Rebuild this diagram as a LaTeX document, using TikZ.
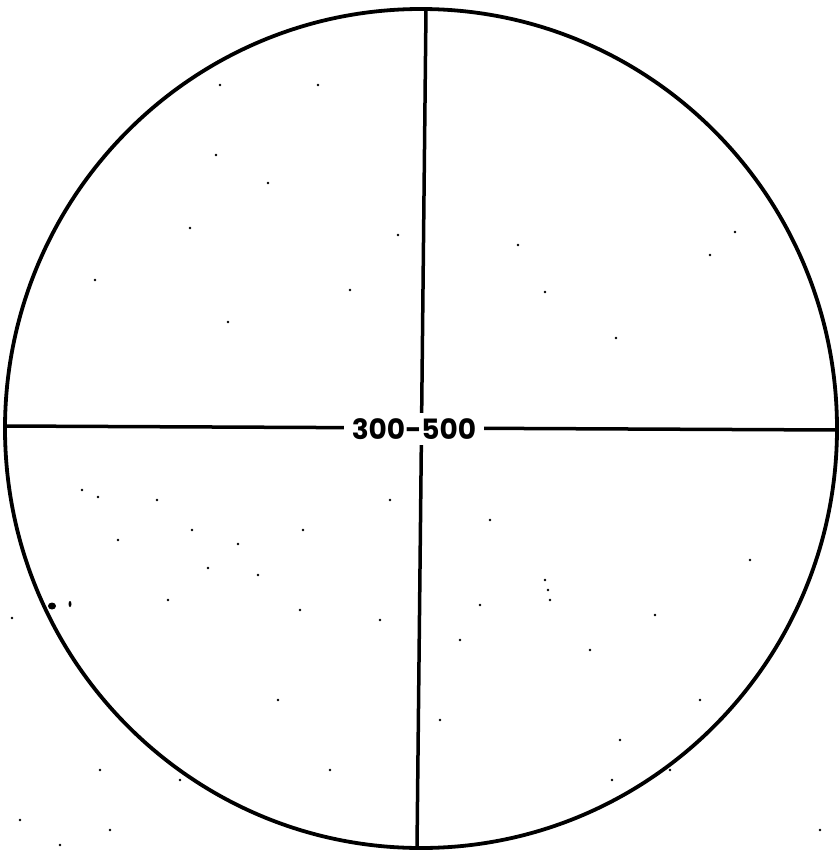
\documentclass[tikz,border=0pt]{standalone}
\usepackage{fontspec}
\setmainfont{Poppins}
\begin{document}
\begin{tikzpicture}[x=1pt,y=-1pt,
  ring/.style={line width=3.8pt},
  hair/.style={line width=3.5pt},
  lbl/.style={fill=white,inner xsep=8pt,inner ysep=5pt,font=\fontsize{28}{28}\selectfont\bfseries},
  speck/.style={fill=black}]
\useasboundingbox (0,0) rectangle (840,851);
\coordinate (c) at (421,428.5);
\draw[ring] (c) ellipse [x radius=416, y radius=419.5];
\coordinate (L) at (5,426);
\coordinate (R) at (837,430);
\coordinate (T) at (426,9);
\coordinate (B) at (417,848);
\draw[hair] (L) -- (R);
\draw[hair] (T) -- (B);
\node[lbl] (lab) at (414,429) {300-500};
\foreach \p in {(220,85),(318,85),(216,155),(268,183),(190,228),(398,235),(518,245),(710,255),(735,232),(95,280),(350,290),(545,292),(228,322),(616,338),(82,490),(98,497),(157,500),(390,500),(490,520),(192,530),(303,530),(118,540),(238,544),(208,568),(258,575),(545,580),(548,590),(550,600),(12,618),(168,600),(300,610),(380,620),(480,605),(460,640),(590,650),(700,700),(620,740),(330,770),(180,780),(100,770),(612,780),(670,770),(110,830),(820,830),(20,820),(60,845),(440,720),(278,700),(750,560),(655,615)}
  \fill[speck] \p circle (1.3);
\fill[speck] (52,606) ellipse [x radius=4, y radius=3.5];
\fill[speck] (70,604) ellipse [x radius=1.5, y radius=3];
\end{tikzpicture}
\end{document}
